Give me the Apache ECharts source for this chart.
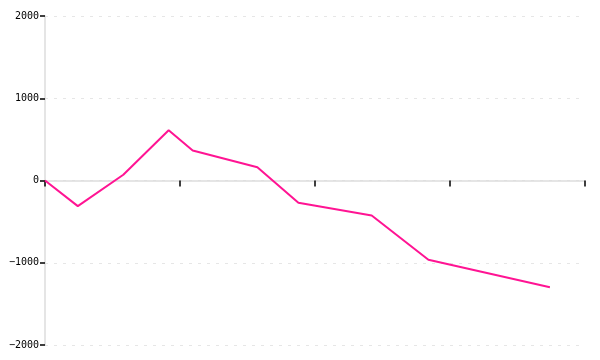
<!DOCTYPE html>
<html><head><meta charset="utf-8">
<script src="https://cdn.jsdelivr.net/npm/echarts@6/dist/echarts.min.js"></script>
<style>html,body{margin:0;padding:0;background:#fff}#c{width:600px;height:360px}</style>
</head><body><div id="c"></div>
<script>
var xValues = [0, 0.243, 0.58, 0.916, 1.094, 1.573, 1.877, 2.42, 2.84, 3.74];
var yValues = [0, -312, 70, 612, 365, 162, -271, -425, -964, -1297];
var yTicks = [-2000, -1000, 0, 1000, 2000];

var chart = echarts.init(document.getElementById('c'), null, {renderer: 'canvas'});
chart.setOption({
  animation: false,
  backgroundColor: '#fff',
  grid: {left: 45, right: 15, top: 16, bottom: 15, containLabel: false},
  xAxis: {
    type: 'value', min: 0, max: 4, interval: 1,
    axisLine: {onZero: true, lineStyle: {color: '#dddddd', width: 1.5}},
    axisTick: {show: true, length: 6, lineStyle: {color: '#000', width: 1.5}},
    axisLabel: {show: false},
    splitLine: {show: false}
  },
  yAxis: {
    type: 'value', min: yTicks[0], max: yTicks[yTicks.length - 1], interval: 1000,
    axisLine: {show: true, lineStyle: {color: '#dddddd', width: 1.5}},
    axisTick: {show: true, length: 5, lineStyle: {color: '#000', width: 1.5}},
    axisLabel: {
      color: '#000', fontFamily: 'DejaVu Sans Mono', fontSize: 10, margin: 6,
      formatter: function (v) { return v < 0 ? '\u2212' + Math.abs(v) : String(v); }
    },
    splitLine: {show: true, lineStyle: {color: '#e6e6e6', type: [3, 6], width: 1}}
  },
  series: [{
    type: 'line',
    data: xValues.map(function (x, i) { return [x, yValues[i]]; }),
    showSymbol: false,
    lineStyle: {color: '#ff1493', width: 2},
    itemStyle: {color: '#ff1493'}
  }]
});
</script></body></html>
